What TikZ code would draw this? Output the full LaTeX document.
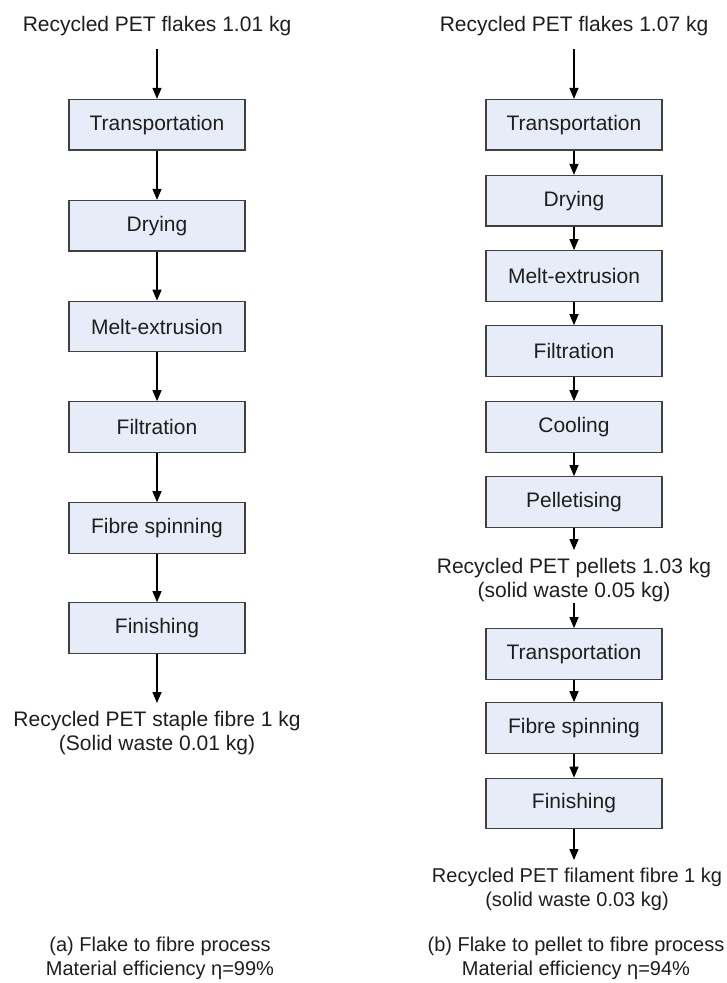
\documentclass[tikz,border=0pt]{standalone}
\usepackage{fontspec}
\setmainfont{Liberation Sans}
\usetikzlibrary{arrows.meta}
\definecolor{boxfill}{HTML}{E7EDF8}
\definecolor{boxline}{HTML}{404040}
\definecolor{ink}{HTML}{1E1E1E}
\begin{document}
\begin{tikzpicture}[x=1pt,y=-1pt,
  stage/.style={draw=boxline, line width=1.2pt, fill=boxfill,
    minimum width=176pt, minimum height=50.5pt, inner sep=0pt,
    font=\fontsize{21}{24}\selectfont, text=ink},
  flowlabel/.style={inner sep=0pt, align=center,
    font=\fontsize{21}{24}\selectfont, text=ink},
  caption/.style={inner sep=0pt, align=center,
    font=\fontsize{20}{24}\selectfont, text=ink},
  flow/.style={draw=black, line width=1.3pt,
    -{Triangle[length=11pt,width=9pt]}}]
\useasboundingbox (0,0) rectangle (726,983);

% ---- (a) flake to fibre ----
\node[flowlabel, anchor=base] (inA) at (157,31.5) {Recycled PET flakes 1.01 kg};
\node[stage] (a1) at (157,124.7) {Transportation};
\node[stage] (a2) at (157,225.7) {Drying};
\node[stage] (a3) at (157,326.5) {Melt-extrusion};
\node[stage] (a4) at (157,427)   {Filtration};
\node[stage] (a5) at (157,528)   {Fibre spinning};
\node[stage] (a6) at (157,628)   {Finishing};
\node[flowlabel, anchor=north] (outA) at (157,711)
  {Recycled PET staple fibre 1 kg\\(Solid waste 0.01 kg)};

\draw[flow, shorten <=13pt] (inA.south) -- (a1.north);
\draw[flow] (a1) -- (a2);
\draw[flow] (a2) -- (a3);
\draw[flow] (a3) -- (a4);
\draw[flow] (a4) -- (a5);
\draw[flow] (a5) -- (a6);
\draw[flow, shorten >=8pt] (a6.south) -- (outA.north);

\node[caption, anchor=north] (capA) at (160,937)
  {(a) Flake to fibre process\\Material efficiency η=99\%};

% ---- (b) flake to pellet to fibre ----
\node[flowlabel, anchor=base] (inB) at (574,31.5) {Recycled PET flakes 1.07 kg};
\node[stage] (b1) at (574,124.7) {Transportation};
\node[stage] (b2) at (574,200.7) {Drying};
\node[stage] (b3) at (574,276)   {Melt-extrusion};
\node[stage] (b4) at (574,351)   {Filtration};
\node[stage] (b5) at (574,427)   {Cooling};
\node[stage] (b6) at (574,502)   {Pelletising};
\node[flowlabel, anchor=north] (pel) at (574,558)
  {Recycled PET pellets 1.03 kg\\(solid waste 0.05 kg)};
\node[stage] (b7) at (574,654)   {Transportation};
\node[stage] (b8) at (574,728)   {Fibre spinning};
\node[stage] (b9) at (574,803.5) {Finishing};
\node[flowlabel, anchor=north, font=\fontsize{20}{24}\selectfont] (outB) at (577,868)
  {Recycled PET filament fibre 1 kg\\(solid waste 0.03 kg)};

\draw[flow, shorten <=13pt] (inB.south) -- (b1.north);
\draw[flow] (b1) -- (b2);
\draw[flow] (b2) -- (b3);
\draw[flow] (b3) -- (b4);
\draw[flow] (b4) -- (b5);
\draw[flow] (b5) -- (b6);
\draw[flow, shorten >=8pt] (b6.south) -- (pel.north);
\draw[flow, shorten <=1.3pt] (pel.south) -- (b7.north);
\draw[flow] (b7) -- (b8);
\draw[flow] (b8) -- (b9);
\draw[flow, shorten >=8pt] (b9.south) -- (outB.north -| b9.south);

\node[caption, anchor=north] (capB) at (576,937)
  {(b) Flake to pellet to fibre process\\Material efficiency η=94\%};
\end{tikzpicture}
\end{document}
